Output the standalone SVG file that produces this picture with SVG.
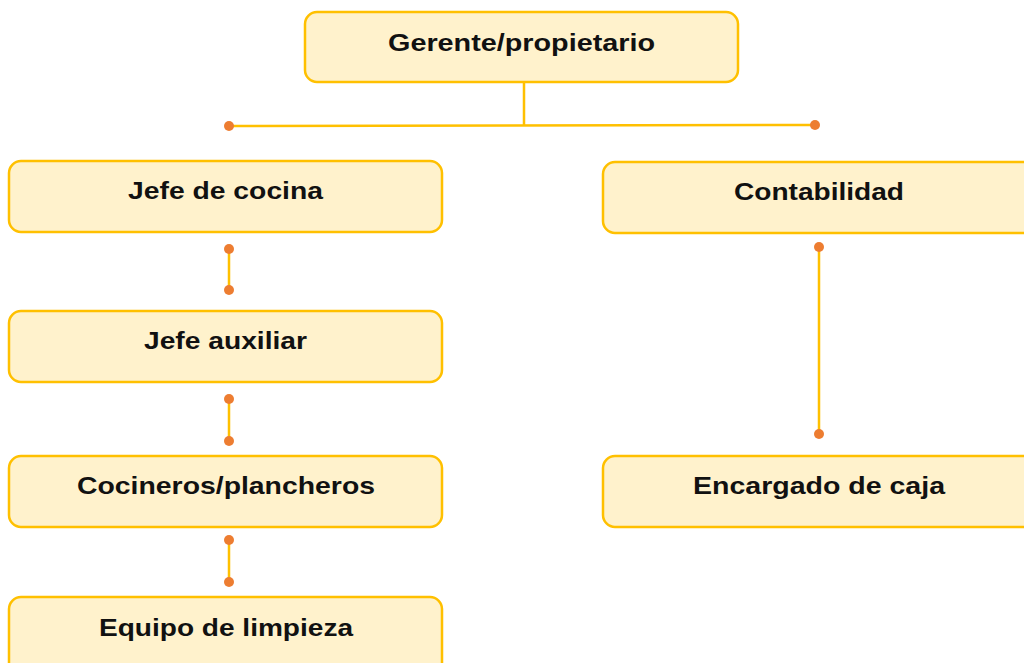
<svg xmlns="http://www.w3.org/2000/svg" width="1024" height="663" viewBox="0 0 1024 663">
<style>
.box{fill:#FFF2CC;stroke:#FFC000;stroke-width:2.5}
.lbl{font-family:"Liberation Sans",Arial,sans-serif;font-weight:bold;font-size:24px;fill:#111;text-anchor:middle}
.ln{stroke:#FFC000;stroke-width:2.5;fill:none}
.dot{fill:#ED7D31}
</style>
<rect width="1024" height="663" fill="#fff"/>
<g id="connectors">
<path class="ln" d="M524 82V125M229 126L815 125"/>
<path class="ln" d="M229 249V290M229 399V441M229 540V582M819 247V434"/>
<circle class="dot" cx="229" cy="126" r="5"/>
<circle class="dot" cx="815" cy="125" r="5"/>
<circle class="dot" cx="229" cy="249" r="5"/>
<circle class="dot" cx="229" cy="290" r="5"/>
<circle class="dot" cx="229" cy="399" r="5"/>
<circle class="dot" cx="229" cy="441" r="5"/>
<circle class="dot" cx="229" cy="540" r="5"/>
<circle class="dot" cx="229" cy="582" r="5"/>
<circle class="dot" cx="819" cy="247" r="5"/>
<circle class="dot" cx="819" cy="434" r="5"/>
</g>
<g id="gerente"><rect class="box" x="305" y="12" width="433" height="70" rx="12"/><text class="lbl" x="521.5" y="51" textLength="267" lengthAdjust="spacingAndGlyphs">Gerente/propietario</text></g>
<g id="jefe-cocina"><rect class="box" x="9" y="161" width="433" height="71" rx="12"/><text class="lbl" x="225.5" y="199" textLength="195" lengthAdjust="spacingAndGlyphs">Jefe de cocina</text></g>
<g id="contabilidad"><rect class="box" x="603" y="162" width="433" height="71" rx="12"/><text class="lbl" x="819" y="200" textLength="170" lengthAdjust="spacingAndGlyphs">Contabilidad</text></g>
<g id="jefe-auxiliar"><rect class="box" x="9" y="311" width="433" height="71" rx="12"/><text class="lbl" x="225.5" y="349" textLength="163" lengthAdjust="spacingAndGlyphs">Jefe auxiliar</text></g>
<g id="cocineros"><rect class="box" x="9" y="456" width="433" height="71" rx="12"/><text class="lbl" x="226" y="494" textLength="298" lengthAdjust="spacingAndGlyphs">Cocineros/plancheros</text></g>
<g id="encargado"><rect class="box" x="603" y="456" width="433" height="71" rx="12"/><text class="lbl" x="819" y="494" textLength="252" lengthAdjust="spacingAndGlyphs">Encargado de caja</text></g>
<g id="equipo"><rect class="box" x="9" y="597" width="433" height="80" rx="12"/><text class="lbl" x="226" y="636" textLength="254" lengthAdjust="spacingAndGlyphs">Equipo de limpieza</text></g>
</svg>
